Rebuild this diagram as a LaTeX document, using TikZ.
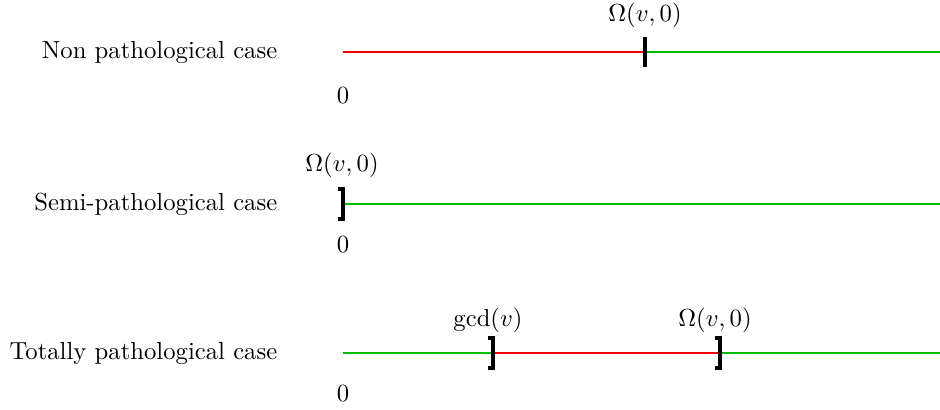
\documentclass[tikz,border=0pt]{standalone}
\definecolor{lowred}{RGB}{245,0,0}
\definecolor{highgreen}{RGB}{0,190,0}

\begin{document}
\begin{tikzpicture}[
        x=0.405pt, y=-0.405pt,
        bad/.style={very thick, lowred},
        good/.style={very thick, highgreen},
        tickmark/.style={black, line width=1.6pt},
        casename/.style={anchor=east}
    ]
    \useasboundingbox (0,0) rectangle (940,410);

    % non pathological
    \node[casename] (noncase) at (286,52) {Non pathological case};
    \coordinate (nonzero) at (343,52);
    \coordinate (nonomega) at (645,52);
    \coordinate (nonend) at (940,52);
    \node (nonomegalab) at (645,15) {$\Omega(v,0)$};
    \node (nonzerolab) at (343,96) {$0$};
    \draw[bad] (nonzero) -- (nonomega);
    \draw[good] (nonomega) -- (nonend);
    \draw[tickmark] (nonomega) ++(0,-15) -- ++(0,30);

    % semi-pathological
    \node[casename] (semicase) at (286,204) {Semi-pathological case};
    \coordinate (semizero) at (343,204);
    \coordinate (semiend) at (940,204);
    \node (semiomegalab) at (342,165) {$\Omega(v,0)$};
    \node (semizerolab) at (343,245) {$0$};
    \draw[good] (semizero) -- (semiend);
    \draw[tickmark] (semizero) ++(-5,-15) -- ++(5,0) -- ++(0,30) -- ++(-5,0);

    % totally pathological
    \node[casename] (totcase) at (286,353) {Totally pathological case};
    \coordinate (totzero) at (343,353);
    \coordinate (totgcd) at (493,353);
    \coordinate (totomega) at (720,353);
    \coordinate (totend) at (940,353);
    \node (totgcdlab) at (488,320) {$\gcd(v)$};
    \node (totomegalab) at (715,320) {$\Omega(v,0)$};
    \node (totzerolab) at (343,394) {$0$};
    \draw[good] (totzero) -- (totgcd);
    \draw[bad] (totgcd) -- (totomega);
    \draw[good] (totomega) -- (totend);
    \draw[tickmark] (totgcd) ++(-5,-15) -- ++(5,0) -- ++(0,30) -- ++(-5,0);
    \draw[tickmark] (totomega) ++(-5,-15) -- ++(5,0) -- ++(0,30) -- ++(-5,0);

\end{tikzpicture}
\end{document}
